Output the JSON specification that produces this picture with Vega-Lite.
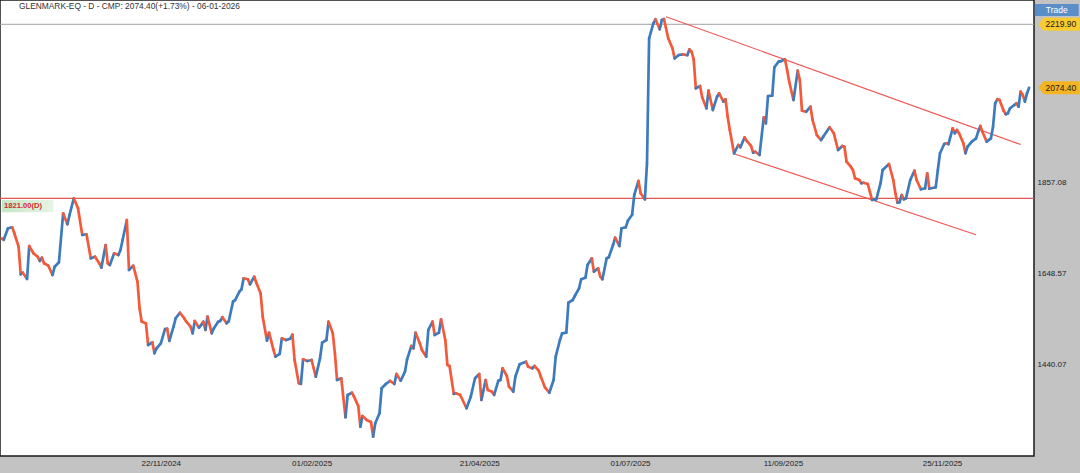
{
  "$schema": "https://vega.github.io/schema/vega-lite/v6.json",
  "width": 1034,
  "height": 456,
  "autosize": {"type": "none"},
  "padding": {"left": 0, "top": 0, "right": 46, "bottom": 17},
  "background": "#c3c3c3",
  "view": {"fill": "#ffffff", "stroke": "#1a1a1a", "strokeWidth": 1.5},
  "config": {"font": "Liberation Sans"},
  "title": {"text": "GLENMARK-EQ - D - CMP: 2074.40(+1.73%) - 06-01-2026", "anchor": "start", "frame": "group", "offset": -10, "dx": 19, "fontSize": 8.4, "fontWeight": "normal", "color": "#333333", "font": "Liberation Sans"},
  "layer": [
    {
      "data": {"values": [{}]},
      "mark": {"type": "rule", "color": "#a0a0a0", "strokeWidth": 1},
      "encoding": {"y": {"datum": 2219.9, "type": "quantitative"}}
    },
    {
      "data": {"values": [{}]},
      "mark": {"type": "rule", "color": "#e05555", "strokeWidth": 1.2},
      "encoding": {"y": {"datum": 1821, "type": "quantitative"}}
    },
    {
      "data": {"values": [{}]},
      "mark": {"type": "rect", "fill": {"gradient": "linear", "stops": [{"offset": 0, "color": "#c6e6c6"}, {"offset": 1, "color": "#e6f4e6"}]}},
      "encoding": {
        "x": {"datum": {"year": 2024, "month": 9, "date": 8, "hours": 1}, "type": "temporal"},
        "x2": {"datum": {"year": 2024, "month": 10, "date": 2, "hours": 9}},
        "y": {"datum": 1817, "type": "quantitative"},
        "y2": {"datum": 1789}
      }
    },
    {
      "data": {"values": [{}]},
      "mark": {"type": "text", "align": "left", "baseline": "middle", "dx": 4, "dy": 7.5, "fontSize": 7.6, "fontWeight": "bold", "color": "#d42b2b", "text": "1821.00(D)"},
      "encoding": {
        "x": {"datum": {"year": 2024, "month": 9, "date": 7, "hours": 6}, "type": "temporal"},
        "y": {"datum": 1821, "type": "quantitative"}
      }
    },
    {
      "data": {"values": [
        {"d1": "2025-07-18", "p1": 2237.3, "d2": "2026-01-01", "p2": 1944.1},
        {"d1": "2025-08-19", "p1": 1923, "d2": "2025-12-11", "p2": 1737.5}
      ], "format": {"parse": {"d1": "date", "d2": "date"}}},
      "mark": {"type": "rule", "color": "#ef5350", "strokeWidth": 1.1},
      "encoding": {
        "x": {"field": "d1", "type": "temporal"},
        "x2": {"field": "d2"},
        "y": {"field": "p1", "type": "quantitative"},
        "y2": {"field": "p2"}
      }
    },
    {
      "data": {"values": [
{"date":"2024-09-08","close":1729},{"date":"2024-09-09","close":1726},{"date":"2024-09-11","close":1752.2},{"date":"2024-09-13","close":1754.5},{"date":"2024-09-14","close":1740.8},{"date":"2024-09-16","close":1710},{"date":"2024-09-17","close":1646.8},{"date":"2024-09-18","close":1650.4},{"date":"2024-09-20","close":1636},{"date":"2024-09-21","close":1711.6},{"date":"2024-09-23","close":1694.9},{"date":"2024-09-25","close":1687.1},{"date":"2024-09-26","close":1677.3},{"date":"2024-09-27","close":1684.8},{"date":"2024-09-28","close":1672},{"date":"2024-09-30","close":1666.5},{"date":"2024-10-02","close":1645.2},{"date":"2024-10-03","close":1664.2},{"date":"2024-10-05","close":1674.3},{"date":"2024-10-07","close":1786.6},{"date":"2024-10-09","close":1761.4},{"date":"2024-10-10","close":1782.7},{"date":"2024-10-12","close":1821},{"date":"2024-10-14","close":1798.1},{"date":"2024-10-16","close":1736.9},{"date":"2024-10-18","close":1738.5},{"date":"2024-10-20","close":1683.4},{"date":"2024-10-22","close":1687.1},{"date":"2024-10-24","close":1672},{"date":"2024-10-25","close":1661.9},{"date":"2024-10-27","close":1713.9},{"date":"2024-10-28","close":1672},{"date":"2024-10-29","close":1668.1},{"date":"2024-10-31","close":1694.9},{"date":"2024-11-02","close":1691},{"date":"2024-11-03","close":1702.5},{"date":"2024-11-04","close":1725.4},{"date":"2024-11-06","close":1771.2},{"date":"2024-11-07","close":1656.6},{"date":"2024-11-09","close":1666.5},{"date":"2024-11-11","close":1629.8},{"date":"2024-11-12","close":1568.8},{"date":"2024-11-13","close":1538.1},{"date":"2024-11-15","close":1534.4},{"date":"2024-11-16","close":1484.7},{"date":"2024-11-18","close":1490.9},{"date":"2024-11-19","close":1465.7},{"date":"2024-11-20","close":1477.1},{"date":"2024-11-22","close":1488.6},{"date":"2024-11-24","close":1521.4},{"date":"2024-11-25","close":1522},{"date":"2024-11-26","close":1493.9},{"date":"2024-11-28","close":1526.6},{"date":"2024-11-29","close":1545.9},{"date":"2024-12-01","close":1558.7},{"date":"2024-12-03","close":1545.9},{"date":"2024-12-04","close":1538.1},{"date":"2024-12-06","close":1526.6},{"date":"2024-12-07","close":1511.5},{"date":"2024-12-08","close":1539.7},{"date":"2024-12-10","close":1524.4},{"date":"2024-12-11","close":1530.5},{"date":"2024-12-12","close":1538.1},{"date":"2024-12-13","close":1519.1},{"date":"2024-12-14","close":1549.6},{"date":"2024-12-16","close":1511.5},{"date":"2024-12-17","close":1523},{"date":"2024-12-19","close":1538.1},{"date":"2024-12-20","close":1539.7},{"date":"2024-12-21","close":1548.2},{"date":"2024-12-23","close":1534.4},{"date":"2024-12-24","close":1539},{"date":"2024-12-26","close":1584},{"date":"2024-12-27","close":1587.8},{"date":"2024-12-29","close":1606.9},{"date":"2024-12-30","close":1612.4},{"date":"2024-12-31","close":1637.6},{"date":"2025-01-02","close":1635.3},{"date":"2025-01-03","close":1623.8},{"date":"2025-01-05","close":1641.3},{"date":"2025-01-06","close":1627.5},{"date":"2025-01-08","close":1603.2},{"date":"2025-01-09","close":1549.6},{"date":"2025-01-11","close":1494.6},{"date":"2025-01-12","close":1512.9},{"date":"2025-01-14","close":1474.8},{"date":"2025-01-15","close":1457.9},{"date":"2025-01-17","close":1464.1},{"date":"2025-01-18","close":1500},{"date":"2025-01-20","close":1496.1},{"date":"2025-01-22","close":1499.1},{"date":"2025-01-23","close":1508.3},{"date":"2025-01-24","close":1450.3},{"date":"2025-01-26","close":1396.9},{"date":"2025-01-27","close":1395.3},{"date":"2025-01-28","close":1451.9},{"date":"2025-01-30","close":1448},{"date":"2025-02-01","close":1450.3},{"date":"2025-02-02","close":1431.3},{"date":"2025-02-03","close":1412},{"date":"2025-02-05","close":1454.2},{"date":"2025-02-06","close":1490},{"date":"2025-02-08","close":1496.1},{"date":"2025-02-09","close":1538.1},{"date":"2025-02-11","close":1511.5},{"date":"2025-02-12","close":1465.7},{"date":"2025-02-13","close":1404.4},{"date":"2025-02-15","close":1408.3},{"date":"2025-02-17","close":1319},{"date":"2025-02-18","close":1370.1},{"date":"2025-02-20","close":1375.3},{"date":"2025-02-21","close":1366.2},{"date":"2025-02-23","close":1344.8},{"date":"2025-02-24","close":1297.4},{"date":"2025-02-25","close":1321.9},{"date":"2025-02-27","close":1312.7},{"date":"2025-03-01","close":1308.2},{"date":"2025-03-02","close":1274.5},{"date":"2025-03-03","close":1305.2},{"date":"2025-03-05","close":1328.1},{"date":"2025-03-06","close":1385.4},{"date":"2025-03-08","close":1395.3},{"date":"2025-03-10","close":1402.2},{"date":"2025-03-12","close":1395.3},{"date":"2025-03-13","close":1418.2},{"date":"2025-03-15","close":1402.8},{"date":"2025-03-17","close":1423.5},{"date":"2025-03-18","close":1451.9},{"date":"2025-03-20","close":1482.4},{"date":"2025-03-21","close":1477.1},{"date":"2025-03-22","close":1512.9},{"date":"2025-03-24","close":1488.6},{"date":"2025-03-25","close":1473.2},{"date":"2025-03-27","close":1457.9},{"date":"2025-03-28","close":1519.1},{"date":"2025-03-30","close":1538.1},{"date":"2025-03-31","close":1507.6},{"date":"2025-04-02","close":1512.9},{"date":"2025-04-03","close":1543.6},{"date":"2025-04-05","close":1496.1},{"date":"2025-04-06","close":1438.8},{"date":"2025-04-07","close":1436.5},{"date":"2025-04-09","close":1372.4},{"date":"2025-04-10","close":1373.9},{"date":"2025-04-12","close":1370.1},{"date":"2025-04-15","close":1339.6},{"date":"2025-04-17","close":1366.2},{"date":"2025-04-19","close":1408.3},{"date":"2025-04-21","close":1418.2},{"date":"2025-04-22","close":1358.6},{"date":"2025-04-24","close":1404.4},{"date":"2025-04-25","close":1381.5},{"date":"2025-04-27","close":1377.6},{"date":"2025-04-28","close":1370.1},{"date":"2025-04-30","close":1402.8},{"date":"2025-05-01","close":1404.4},{"date":"2025-05-02","close":1431.3},{"date":"2025-05-04","close":1413.6},{"date":"2025-05-05","close":1389.1},{"date":"2025-05-07","close":1377.6},{"date":"2025-05-08","close":1412},{"date":"2025-05-10","close":1440.4},{"date":"2025-05-13","close":1446.4},{"date":"2025-05-14","close":1434.9},{"date":"2025-05-16","close":1431.3},{"date":"2025-05-17","close":1436.5},{"date":"2025-05-19","close":1425.8},{"date":"2025-05-20","close":1412},{"date":"2025-05-22","close":1386.8},{"date":"2025-05-24","close":1375.3},{"date":"2025-05-26","close":1404.4},{"date":"2025-05-27","close":1457.9},{"date":"2025-05-29","close":1496.1},{"date":"2025-05-30","close":1511.5},{"date":"2025-06-01","close":1513},{"date":"2025-06-02","close":1581.7},{"date":"2025-06-04","close":1587.8},{"date":"2025-06-05","close":1597},{"date":"2025-06-07","close":1614.7},{"date":"2025-06-08","close":1635.3},{"date":"2025-06-10","close":1639},{"date":"2025-06-11","close":1668.1},{"date":"2025-06-13","close":1683.4},{"date":"2025-06-14","close":1652.7},{"date":"2025-06-16","close":1660.5},{"date":"2025-06-17","close":1641.3},{"date":"2025-06-18","close":1635.3},{"date":"2025-06-20","close":1683.4},{"date":"2025-06-21","close":1685.7},{"date":"2025-06-23","close":1713.9},{"date":"2025-06-24","close":1730.7},{"date":"2025-06-26","close":1711.6},{"date":"2025-06-27","close":1752.2},{"date":"2025-06-29","close":1754.5},{"date":"2025-06-30","close":1769.6},{"date":"2025-07-02","close":1783.4},{"date":"2025-07-03","close":1828.6},{"date":"2025-07-05","close":1860.7},{"date":"2025-07-06","close":1832.5},{"date":"2025-07-08","close":1818.7},{"date":"2025-07-09","close":1901.2},{"date":"2025-07-10","close":2187.8},{"date":"2025-07-12","close":2222.2},{"date":"2025-07-13","close":2231.4},{"date":"2025-07-15","close":2208.4},{"date":"2025-07-16","close":2229.7},{"date":"2025-07-17","close":2232},{"date":"2025-07-19","close":2187.8},{"date":"2025-07-21","close":2164.9},{"date":"2025-07-22","close":2141.9},{"date":"2025-07-24","close":2149.5},{"date":"2025-07-26","close":2151},{"date":"2025-07-28","close":2149},{"date":"2025-07-29","close":2162.6},{"date":"2025-07-30","close":2157.1},{"date":"2025-07-31","close":2139.7},{"date":"2025-08-01","close":2073.2},{"date":"2025-08-03","close":2078.4},{"date":"2025-08-04","close":2052.5},{"date":"2025-08-06","close":2027.3},{"date":"2025-08-07","close":2067.7},{"date":"2025-08-09","close":2023.4},{"date":"2025-08-11","close":2053.9},{"date":"2025-08-12","close":2061.7},{"date":"2025-08-14","close":2042.5},{"date":"2025-08-15","close":2048},{"date":"2025-08-16","close":2008.1},{"date":"2025-08-17","close":1977.6},{"date":"2025-08-19","close":1924.2},{"date":"2025-08-21","close":1943.2},{"date":"2025-08-22","close":1937.9},{"date":"2025-08-24","close":1960.8},{"date":"2025-08-25","close":1952.4},{"date":"2025-08-27","close":1940.9},{"date":"2025-08-28","close":1925.5},{"date":"2025-08-29","close":1927.8},{"date":"2025-08-31","close":1920.3},{"date":"2025-09-02","close":2006.7},{"date":"2025-09-03","close":1992.9},{"date":"2025-09-04","close":2055.5},{"date":"2025-09-06","close":2056.5},{"date":"2025-09-07","close":2121.3},{"date":"2025-09-09","close":2134.2},{"date":"2025-09-10","close":2135},{"date":"2025-09-12","close":2139.7},{"date":"2025-09-13","close":2115.1},{"date":"2025-09-14","close":2088.3},{"date":"2025-09-16","close":2046.3},{"date":"2025-09-18","close":2113.5},{"date":"2025-09-19","close":2092.2},{"date":"2025-09-20","close":2021.8},{"date":"2025-09-22","close":2019.5},{"date":"2025-09-24","close":2031},{"date":"2025-09-25","close":2000.5},{"date":"2025-09-27","close":1966.1},{"date":"2025-09-29","close":1954.6},{"date":"2025-09-30","close":1962.2},{"date":"2025-10-03","close":1983.8},{"date":"2025-10-05","close":1970},{"date":"2025-10-07","close":1931.7},{"date":"2025-10-09","close":1940.9},{"date":"2025-10-10","close":1939.3},{"date":"2025-10-11","close":1904.9},{"date":"2025-10-13","close":1893.4},{"date":"2025-10-14","close":1885.9},{"date":"2025-10-15","close":1866.8},{"date":"2025-10-17","close":1862.9},{"date":"2025-10-18","close":1855.4},{"date":"2025-10-19","close":1856.8},{"date":"2025-10-21","close":1853.8},{"date":"2025-10-22","close":1836.1},{"date":"2025-10-23","close":1817.1},{"date":"2025-10-25","close":1818.7},{"date":"2025-10-27","close":1855.4},{"date":"2025-10-28","close":1885.9},{"date":"2025-10-31","close":1899.6},{"date":"2025-11-02","close":1862.9},{"date":"2025-11-03","close":1832.5},{"date":"2025-11-04","close":1810.9},{"date":"2025-11-05","close":1812},{"date":"2025-11-06","close":1828.6},{"date":"2025-11-07","close":1818.7},{"date":"2025-11-08","close":1821},{"date":"2025-11-10","close":1862.9},{"date":"2025-11-12","close":1884.3},{"date":"2025-11-13","close":1862.9},{"date":"2025-11-15","close":1841.6},{"date":"2025-11-17","close":1843.9},{"date":"2025-11-18","close":1878.3},{"date":"2025-11-19","close":1843},{"date":"2025-11-22","close":1846.2},{"date":"2025-11-23","close":1885.9},{"date":"2025-11-24","close":1924.2},{"date":"2025-11-26","close":1945.5},{"date":"2025-11-27","close":1947.1},{"date":"2025-11-28","close":1945},{"date":"2025-11-30","close":1981.5},{"date":"2025-12-01","close":1970},{"date":"2025-12-02","close":1977.6},{"date":"2025-12-03","close":1970},{"date":"2025-12-05","close":1947.1},{"date":"2025-12-06","close":1924.2},{"date":"2025-12-07","close":1939.3},{"date":"2025-12-09","close":1950.8},{"date":"2025-12-11","close":1958.5},{"date":"2025-12-12","close":1973.7},{"date":"2025-12-13","close":1986.7},{"date":"2025-12-14","close":1973.7},{"date":"2025-12-16","close":1950.8},{"date":"2025-12-18","close":1958.5},{"date":"2025-12-19","close":1985.1},{"date":"2025-12-20","close":2038.8},{"date":"2025-12-21","close":2048},{"date":"2025-12-22","close":2047},{"date":"2025-12-24","close":2021.8},{"date":"2025-12-25","close":2013.6},{"date":"2025-12-26","close":2015.9},{"date":"2025-12-27","close":2027.3},{"date":"2025-12-29","close":2034.9},{"date":"2025-12-30","close":2038.8},{"date":"2025-12-31","close":2031},{"date":"2026-01-01","close":2065.4},{"date":"2026-01-02","close":2057.8},{"date":"2026-01-03","close":2042.5},{"date":"2026-01-04","close":2061.7},{"date":"2026-01-05","close":2074.4}
      ], "format": {"parse": {"date": "date"}}},
      "transform": [
        {"window": [{"op": "lead", "field": "date", "as": "date2"}, {"op": "lead", "field": "close", "as": "close2"}], "sort": [{"field": "date"}]},
        {"filter": "datum.close2 != null"}
      ],
      "mark": {"type": "rule", "strokeWidth": 2.7, "strokeCap": "round"},
      "encoding": {
        "x": {"field": "date", "type": "temporal",
              "scale": {"domain": [{"year": 2024, "month": 9, "date": 7, "hours": 6}, {"year": 2026, "month": 1, "date": 7, "hours": 7}]},
              "axis": {"values": [{"year": 2024, "month": 11, "date": 22}, {"year": 2025, "month": 2, "date": 1}, {"year": 2025, "month": 4, "date": 21}, {"year": 2025, "month": 7, "date": 1}, {"year": 2025, "month": 9, "date": 11}, {"year": 2025, "month": 11, "date": 25}],
                       "format": "%d/%m/%Y", "title": null, "ticks": false, "domain": false, "grid": false, "labelFontSize": 8, "labelColor": "#222222", "labelPadding": 3, "labelOverlap": false, "labelFlush": false}},
        "x2": {"field": "date2"},
        "y": {"field": "close", "type": "quantitative",
              "scale": {"domain": [1230.2, 2275.6], "nice": false, "zero": false},
              "axis": {"orient": "right", "values": [1440.07, 1648.57, 1857.08], "format": ".2f", "title": null, "ticks": false, "domain": false, "grid": false, "labelFontSize": 8, "labelColor": "#222222", "labelPadding": 3, "labelAlign": "left"}},
        "y2": {"field": "close2"},
        "color": {"condition": {"test": "datum.close2 > datum.close", "value": "#3c7bbd"}, "value": "#f4593a"}
      }
    },
    {
      "data": {"values": [{"v": 2219.9, "label": "2219.90"}, {"v": 2074.4, "label": "2074.40"}]},
      "layer": [
        {
          "mark": {"type": "point", "filled": true, "opacity": 1, "shape": "M -1 0 L -0.75 -0.32 L 1 -0.32 L 1 0.32 L -0.75 0.32 Z", "size": 1681},
          "encoding": {
            "x": {"datum": {"year": 2026, "month": 1, "date": 19}, "type": "temporal"},
            "y": {"field": "v", "type": "quantitative"},
            "color": {"condition": {"test": "datum.v > 2100", "value": "#f9cb2f"}, "value": "#f2b423"}
          }
        },
        {
          "mark": {"type": "text", "align": "center", "baseline": "middle", "dx": 2, "fontSize": 8.5, "color": "#1a1a1a"},
          "encoding": {
            "x": {"datum": {"year": 2026, "month": 1, "date": 19}, "type": "temporal"},
            "y": {"field": "v", "type": "quantitative"},
            "text": {"field": "label"}
          }
        }
      ]
    },
    {
      "data": {"values": [{}]},
      "mark": {"type": "point", "filled": true, "opacity": 1, "color": "#5a8ec8", "shape": "M -1 -0.273 L 1 -0.273 L 1 0.273 L -1 0.273 Z", "size": 1936},
      "encoding": {
        "x": {"datum": {"year": 2026, "month": 1, "date": 18}, "type": "temporal"},
        "y": {"datum": 2252.7, "type": "quantitative"}
      }
    },
    {
      "data": {"values": [{}]},
      "mark": {"type": "text", "align": "center", "baseline": "middle", "fontSize": 8.5, "color": "#ffffff", "text": "Trade"},
      "encoding": {
        "x": {"datum": {"year": 2026, "month": 1, "date": 18}, "type": "temporal"},
        "y": {"datum": 2252.7, "type": "quantitative"}
      }
    }
  ]
}
